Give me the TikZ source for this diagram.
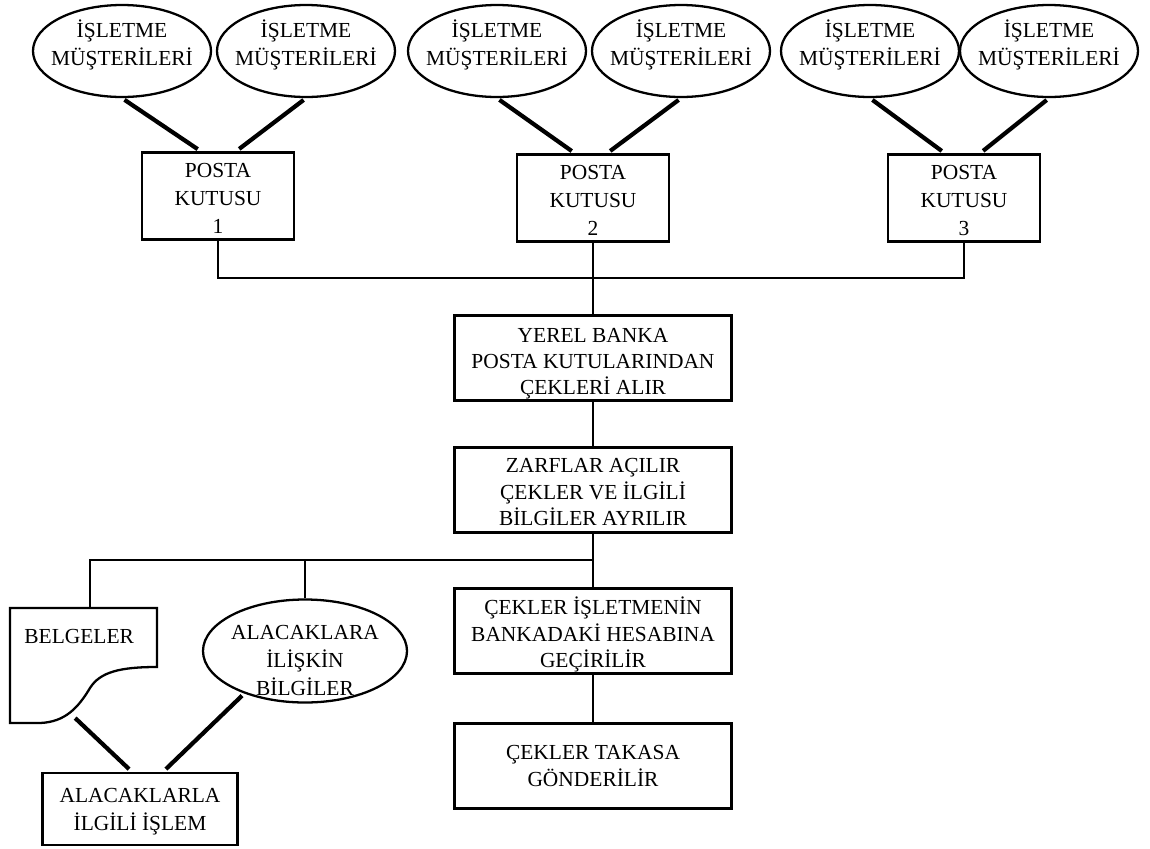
\documentclass[tikz,border=0pt]{standalone}
\usepackage{fontspec}
\setmainfont{Liberation Serif}
\usepackage{tikz}
\usetikzlibrary{shapes,positioning,calc}

% satirlari ortalar, dikeyde kaydirir
\newcommand{\yazi}[2][-5.3pt]{\raisebox{#1}[0pt][0pt]{\begin{tabular}{@{}c@{}}#2\end{tabular}}}

\begin{document}
\begin{tikzpicture}[x=0.2mm, y=-0.2mm,
    font=\fontsize{12.2}{16}\selectfont,
    kutu/.style={draw, line width=1.3pt, align=center, minimum width=30.4mm, minimum height=17.4mm, inner sep=1pt},
    islem/.style={kutu, minimum width=55.4mm, minimum height=17mm, font=\fontsize{12.2}{15}\selectfont},
    musteri/.style={draw, ellipse, line width=1.3pt, align=center, minimum width=35.6mm, minimum height=18.4mm, inner xsep=-1.6mm, inner ysep=0pt},
    hat/.style={line width=1.3pt},
    kalin/.style={line width=2.4pt, shorten <=0.6mm, shorten >=0.8mm}]
    \useasboundingbox (0,0) rectangle (1150,848);

    % musteriler
    \node[musteri] (m1) at (122,51) {\yazi[0pt]{İŞLETME\\MÜŞTERİLERİ}};
    \node[musteri] (m2) at (306,51) {\yazi[0pt]{İŞLETME\\MÜŞTERİLERİ}};
    \node[musteri] (m3) at (497,51) {\yazi[0pt]{İŞLETME\\MÜŞTERİLERİ}};
    \node[musteri] (m4) at (681,51) {\yazi[0pt]{İŞLETME\\MÜŞTERİLERİ}};
    \node[musteri] (m5) at (870,51) {\yazi[0pt]{İŞLETME\\MÜŞTERİLERİ}};
    \node[musteri] (m6) at (1049,51) {\yazi[0pt]{İŞLETME\\MÜŞTERİLERİ}};

    % posta kutulari
    \node[kutu] (p1) at (218,196) {\yazi{POSTA\\KUTUSU\\1}};
    \node[kutu] (p2) at (593,198) {\yazi{POSTA\\KUTUSU\\2}};
    \node[kutu] (p3) at (964,198) {\yazi{POSTA\\KUTUSU\\3}};

    \draw[kalin] (m1.south) -- ([xshift=-3.4mm]p1.north);
    \draw[kalin] (m2.south) -- ([xshift=3.6mm]p1.north);
    \draw[kalin] (m3.south) -- ([xshift=-3.6mm]p2.north);
    \draw[kalin] (m4.south) -- ([xshift=2.8mm]p2.north);
    \draw[kalin] (m5.south) -- ([xshift=-3.8mm]p3.north);
    \draw[kalin] (m6.south) -- ([xshift=3.2mm]p3.north);

    % banka
    \node[islem] (yerel) at (593,358) {\yazi[-6pt]{YEREL BANKA\\POSTA KUTULARINDAN\\ÇEKLERİ ALIR}};
    \node[islem] (zarf) at (593,490) {\yazi{ZARFLAR AÇILIR\\ÇEKLER VE İLGİLİ\\BİLGİLER AYRILIR}};
    \node[islem] (hesap) at (593,631) {\yazi[-5.8pt]{ÇEKLER İŞLETMENİN\\BANKADAKİ HESABINA\\GEÇİRİLİR}};
    \node[islem] (takas) at (593,766) {\yazi[-4pt]{ÇEKLER TAKASA\\GÖNDERİLİR}};

    \coordinate (ust) at (593,278);
    \draw[hat] (p1.south) |- (ust) -| (p3.south);
    \draw[hat] (p2.south) -- (yerel.north);
    \draw[hat] (yerel.south) -- (zarf.north);
    \draw[hat] (zarf.south) -- (hesap.north);
    \draw[hat] (hesap.south) -- (takas.north);

    % alacaklar
    \coordinate (alt) at (593,560);
    \coordinate (belgeust) at (90,608);
    \coordinate (belgealt) at (73,716);
    \draw[hat] (10,608) -- (157,608) -- (157,667)
        .. controls (120,667) and (100,672) .. (90,688)
        .. controls (78,708) and (65,722) .. (40,723) -- (10,723) -- cycle;
    \node[anchor=west, inner sep=0pt] (belge) at (24,636) {BELGELER};
    \node[musteri, minimum width=40.8mm, minimum height=20.6mm, inner xsep=-1mm] (bilgi) at (305,651) {\yazi[-9pt]{ALACAKLARA\\İLİŞKİN\\BİLGİLER}};
    \node[kutu, minimum width=39mm, minimum height=14.4mm] (alacak) at (140,809) {\yazi[-4pt]{ALACAKLARLA\\İLGİLİ İŞLEM}};

    \draw[hat] (alt) -| (belgeust);
    \draw[hat] (bilgi.north) -- (bilgi.north |- alt);
    \draw[kalin] (belgealt) -- ([xshift=-1.6mm]alacak.north);
    \draw[kalin] (bilgi.-145) -- ([xshift=4.6mm]alacak.north);
\end{tikzpicture}
\end{document}
